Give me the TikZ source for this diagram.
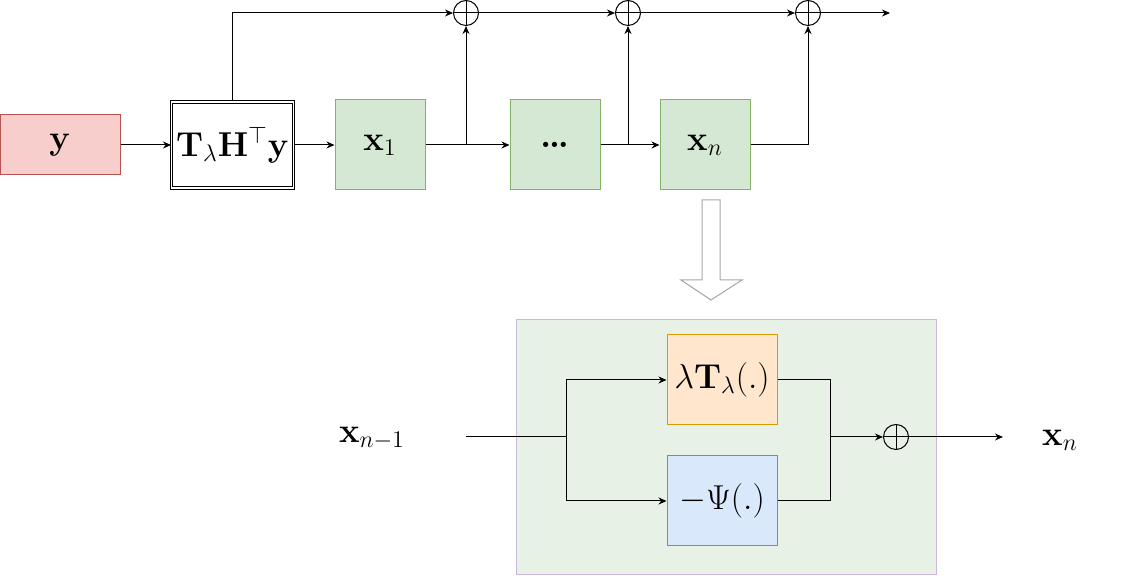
\documentclass[tikz,border=0pt]{standalone}
\usepackage{tikz}
\usetikzlibrary {arrows.meta, positioning}

\definecolor{redfill}{HTML}{F8CECC}
\definecolor{redline}{HTML}{B85450}
\definecolor{greenfill}{HTML}{D5E8D4}
\definecolor{greenline}{HTML}{82B366}
\definecolor{orangefill}{HTML}{FFE6CC}
\definecolor{orangeline}{HTML}{D79B00}
\definecolor{bluefill}{HTML}{DAE8FC}
\definecolor{blueline}{HTML}{6C8EBF}
\definecolor{stagefill}{HTML}{E8F1E6}
\definecolor{stageline}{HTML}{C9B8D9}

\begin{document}
\begin{tikzpicture}[
    x=0.5pt,
    y=-0.5pt,
    ->,
    >={Stealth[length=4pt, width=3.5pt]},
    line width=0.5pt,
    font=\fontsize{18}{21}\selectfont,
    block/.style={draw, -, inner sep=0pt, minimum width=45pt, minimum height=45pt},
    layer/.style={block, draw=greenline, fill=greenfill},
    sum/.style={draw, -, circle, inner sep=0pt, minimum size=12.5pt, line width=0.5pt,
        path picture={\draw (path picture bounding box.north) -- (path picture bounding box.south)
                            (path picture bounding box.west) -- (path picture bounding box.east);}},
]
    \useasboundingbox (0,0) rectangle (1121,576);

    % unrolled network
    \node[block, draw=redline, fill=redfill, minimum width=60pt, minimum height=30pt] (y) at (60,145) {$\mathbf{y}$};
    \node[block, double, double distance=0.8pt, minimum width=61pt, minimum height=43pt] (thy) at (232.5,145) {$\mathbf{T}_\lambda\mathbf{H}^\top\mathbf{y}$};
    \node[layer] (x1)   at (380,145) {$\mathbf{x}_1$};
    \node[layer] (dots) at (555,145) {\textbf{\dots}};
    \node[layer] (xn)   at (705,145) {$\mathbf{x}_n$};

    \node[sum] (s1) at (466,13) {};
    \node[sum] (s2) at (628,13) {};
    \node[sum] (s3) at (808,13) {};
    \coordinate (out) at (890,13);

    \draw (y) -- (thy);
    \draw (thy) -- (x1);
    \draw (x1) -- (dots);
    \draw (dots) -- (xn);
    \draw (thy.north) |- (s1);
    \draw (s1) -- (s2);
    \draw (s2) -- (s3);
    \draw (s3) -- (out);
    \draw (s1 |- x1.east) -- (s1);
    \draw (s2 |- dots.east) -- (s2);
    \draw (xn) -| (s3);

    % zoom arrow
    \draw[-, gray!70] (702,200) -- (720,200) -- (720,280) -- (742,280)
        -- (711,300) -- (681,280) -- (702,280) -- cycle;

    % one layer
    \node[block, draw=stageline, fill=stagefill, minimum width=210pt, minimum height=127.5pt] (stage) at (726,447.5) {};
    \node[block, draw=orangeline, fill=orangefill, minimum width=55pt] (lam) at (722,380) {$\lambda\mathbf{T}_\lambda(.)$};
    \node[block, draw=blueline, fill=bluefill, minimum width=55pt, below=15pt of lam] (psi) {$-\Psi(.)$};
    \node[sum] (sb) at (896,437) {};

    \node (xin)  at (372,438) {$\mathbf{x}_{n-1}$};
    \node (xout) at (1060,440) {$\mathbf{x}_n$};
    \coordinate (in)    at (466,437);
    \coordinate (split) at (566,437);
    \coordinate (merge) at (830,437);
    \coordinate (end)   at (1003,437);

    \draw[-] (in) -- (split);
    \draw (split) |- (lam);
    \draw (split) |- (psi);
    \draw[-] (lam) -| (merge);
    \draw[-] (psi) -| (merge);
    \draw (merge) -- (sb);
    \draw (sb) -- (end);
\end{tikzpicture}
\end{document}
